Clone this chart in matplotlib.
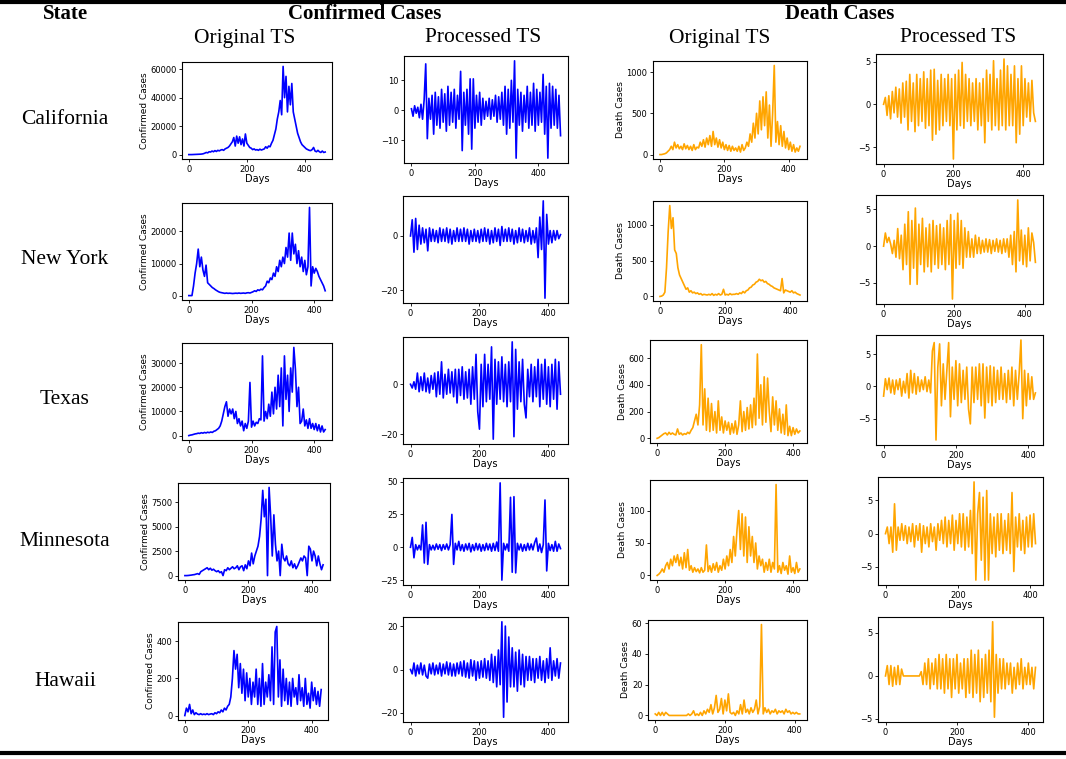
import numpy as np
import matplotlib
matplotlib.use('Agg')
import matplotlib.pyplot as plt
from matplotlib.lines import Line2D

W, H = 1066, 759
STEP = 5  # one value every 5 days

states = ['California', 'New York', 'Texas', 'Minnesota', 'Hawaii']

# ---- California ----
ca_conf = [0,0,0,50,100,150,200,250,300,400,600,1000,1500,1200,2000,1800,2500,2000,2800,2200,
           3000,2600,3200,3500,3000,4000,4500,5000,6000,7500,9000,12000,6000,13000,8000,12500,7000,11000,6000,14500,
           8000,6500,5000,4500,3500,4000,3200,3500,3000,3800,3200,3600,4000,5500,4500,6000,5500,8000,10000,14000,
           18000,25000,30000,38000,28000,62000,40000,55000,30000,48000,35000,50000,30000,25000,20000,15000,12000,9000,7000,6000,
           5000,4000,3500,3000,2800,3500,5000,2500,2000,3000,2000,1500,2500,1500,1800]
ca_proc = [0.5,-2,1.5,-1,1,-2.5,2,-3,3.5,15.5,-9.5,4,-3,5,-8,6,-5,4.5,-6,7,
           -4,5.5,-7,8,-5,6,-4,7,-6,5,-3,13,-13.5,6,-5,7,-8,10.5,-13,10.5,
           -6,5,-4,6,-5,4,-3,3,-2,4,-3,3.5,-2,5,-4,4.5,-3,6,-5,8,
           -8,7,-6,10,-4,16.5,-16,7,-5,6,-7,5,-4,8,-6,6,-5,9,-7,7,
           -5,6,-4,12,-8,8,-16,9,-6,8,-5,7,-6,5,-8.5]
ca_death = [0,0,5,10,20,40,60,100,60,150,80,120,70,100,60,130,70,110,60,100,
            50,120,60,90,80,150,100,180,90,200,120,230,100,280,120,200,90,180,80,150,
            60,120,50,110,40,100,50,80,40,100,30,120,50,80,150,100,250,150,380,200,
            500,250,650,300,700,350,760,200,600,100,500,1080,150,400,120,350,100,280,80,200,
            60,150,40,120,30,80,40,100]
ca_dproc = [0,0.8,-1.3,1,-1.7,1.5,-1,2,-1.5,1.8,-2.2,2.5,-1.5,2.7,-3,3.5,-2,2.5,-3.2,3.5,
            -2.5,3,-2,3.8,-2.8,3,-2.5,4,-4.2,4.1,-3.5,2.8,-3,3.5,-2.5,3,-2,3.5,-2.5,3,
            -6.4,3.5,-3,4,-2.5,4.9,-2.8,3.5,-2,3,-2.5,2.5,-2,3,-3,2.5,-2.5,3,-4.5,4,
            -2,3.5,-3,5.1,-2.5,3,-3,4,-2.5,5.3,-3,4.5,-2.5,3.5,-2.5,4.5,-4.5,3,-3.5,4.5,
            -2.5,3,-1.5,2.5,-2,2.8,-1,-2]

# ---- New York ----
ny_conf = [0,0,0,3000,7000,10000,14500,9000,12000,8000,6000,9500,4000,3500,3000,2500,2200,1800,1500,1200,
           1000,900,800,700,800,700,750,700,650,700,750,700,800,700,750,800,700,850,900,800,
           1000,1200,1500,1300,1800,1600,2000,1800,2500,3000,4500,4000,5500,5000,7000,6000,9000,7500,11000,9000,
           12000,10000,15000,12000,19500,11000,19500,13000,16000,10000,14000,9000,12000,7500,11000,6500,9000,27500,3000,9000,
           7000,8500,7500,6000,5000,4000,3000,1500]
ny_proc = [0,6,-6,6.5,-5,4,-3,3,-2.5,2.5,-5.5,3,-2,2.5,-2,2,-2.5,3,-2,2.5,
           -2,3,-2.5,2.5,-3,2,-2,3,-2,2.5,-2,3,-2,2.5,-3,2,-2,2.5,-2,2,
           -2.5,2.5,-2,3,-2,2.5,-3,2,-2.5,3,-2,2.5,-3.5,3.5,-2,2.5,-2,3,-2,2.5,
           -3,2,-2.5,3,-2,2.5,-2.5,2,-2,3,-3,2,-2.5,3,-8,7,-5,13,-23,8,
           -3,2,-2.5,2,-1.5,2,-1,0.5]
ny_death = [0,5,20,60,400,900,1270,950,1100,650,600,400,300,250,200,150,100,120,60,80,
            50,60,40,50,30,40,20,30,25,20,30,20,40,15,30,20,40,20,30,100,
            20,30,20,40,25,30,30,40,30,50,40,70,50,80,90,120,130,160,170,200,
            210,240,220,230,200,210,180,170,150,140,120,110,100,90,80,250,50,90,80,70,
            60,80,50,60,40,30,20]
ny_dproc = [0,1.8,0.5,1.2,0.3,-1,0.8,-1.5,2.4,-1.7,1.5,-3.2,3,-2.5,4.7,-5.2,3.5,-3,5.2,-5.2,
            3,-2.5,3.8,-3.5,2.5,-2.8,3,-3.5,3.5,-2.5,2.8,-3,3,-2.5,2.5,-3.2,3.5,-2.5,4.3,-7.2,
            3.5,-3,4.5,-2.5,3.5,-3,2.5,-1.5,2,-1.5,1,-1.5,1.5,-1,1.2,-1,0.8,-0.8,1,-0.8,
            0.9,-1,0.8,-0.7,1,-0.8,0.8,-1,1,-0.8,1,-1.5,1.5,-2.5,2,-3.5,6.3,-2,2.2,-2.5,
            1.5,-2.8,2.5,-2,1.8,0.5,-2.2]

# ---- Texas ----
tx_conf = [0,200,300,500,700,800,1000,900,1200,1000,1300,1100,1400,1200,1500,1300,1800,2000,2500,3000,
           4000,6000,9000,12000,14000,8000,11000,9000,11000,7000,10000,5000,7000,4000,6000,2000,5000,3000,6000,22000,
           3500,6000,4000,5500,5000,7000,6500,33000,6000,10000,7000,13000,8000,18000,9000,20000,11000,25000,12000,28000,
           4000,33000,15000,25000,10000,28000,18000,36500,27500,12000,20000,5000,6000,11000,4000,6500,3000,7000,3000,5000,
           2500,5000,2000,4500,1500,4000,1500,2500]
tx_proc = [0,-1.5,1,-2,4.5,-3,3,-2.5,4.5,-3,2.5,-3.5,3.5,-2,4.5,-5,5,-4,9,-5.5,
           4,-4,6,-3.5,5,-5,6,-7.5,6,-4.5,7,-6,5,-5.5,6,-8,7,-6,12,-11,
           -18,8,-9,12,-7,8,-6,15,-22,10,-8,9,-6,11,-7,8,-9,9,-7,17,
           -21,14,-10,9,-7,10,-8,-13.5,6,-5,8,-7,7,-5,10,-9,8,-6,10,-8,
           7,-9,8,-6,10,-10,9,-4]
tx_death = [0,5,15,25,35,40,25,45,30,40,30,25,70,30,40,25,35,30,45,35,
            60,80,130,180,100,250,700,100,370,60,300,50,260,60,200,40,280,60,160,40,
            130,60,120,30,110,40,130,30,100,280,50,200,60,230,70,250,80,300,100,630,
            150,400,100,460,120,450,200,50,310,100,280,60,220,40,180,30,250,20,90,20,
            80,30,70,40,55]
tx_dproc = [-1.5,1.2,-0.5,1.3,-1,1,-1.2,1,-0.5,1.2,-1.5,0.8,-1,2,-1.8,2.5,-1,2,-1.2,1.5,
            -0.8,1,-0.5,1.5,-0.8,1,-1,5.5,6.8,-8.3,3,6.6,-3,3.5,-2,2.5,6.8,-4.7,3,-2,
            4,-3,3.5,-2.5,2.5,-2,3,-3.5,-5.8,3,-2.5,3,-2,3.5,-3,3.5,-4.9,3,-2.5,3.2,
            -3,3,-2.5,2.5,-2,3,-2,2,-2.5,2.5,-2,3,-3,2.5,-2,2,7.2,-5,2.5,-3,
            2,-2,1.5,-2,-1]

# ---- Minnesota ----
mn_conf = [0,0,10,30,50,80,100,150,200,120,400,500,600,700,800,600,750,550,650,500,
           400,500,300,400,0,600,500,800,600,750,900,700,800,1000,600,900,1000,500,1100,700,
           1500,1000,2300,1200,2000,2500,3000,4000,5800,8700,6000,7800,0,9000,6000,2000,6200,3200,1500,2500,
           0,3200,1800,1500,2000,1200,1000,1500,800,1200,700,1000,1400,1800,1500,2000,1800,0,3000,2700,
           1500,2500,2000,1000,2000,1200,600,1100]
mn_proc = [0,7.5,-8,2,-2,1.5,-2,17,-12,19,-13,2,-2,1.5,-2,2.5,-1.5,2,-2.5,2,
           -1.5,2.5,-2,2,25,-13,3,-2,4.5,-2.5,2,-3,2.5,-2,3,-3.5,2,-2.5,3,-2,
           2.5,-3,2,-2.5,3,-2,2.5,-3,3,-2.5,4,-3,49,-25,3,-2,2.5,-3,38,-19,
           38.5,-19.5,3,-2,2.5,-3,2,-2.5,3,-2,2.5,-2,3.5,7,-3,2.5,-4,2,36,-18,
           3,-2.5,2,-3,4.5,-3,2.5,-1]
mn_death = [0,2,5,10,5,15,20,10,25,15,30,20,32,15,28,10,35,12,40,8,
            15,5,12,6,10,4,12,5,8,47,6,15,5,18,8,20,5,15,8,25,
            10,30,15,40,20,60,30,70,100,40,95,30,90,20,75,30,60,20,50,10,
            30,15,25,5,20,8,25,5,20,10,140,5,15,3,20,8,15,2,30,5,
            12,3,20,5,10]
mn_dproc = [0,1,-1.5,1,-2.8,4.5,-2.5,1,-1,1.5,-1,1.2,-1.5,1,-1.2,1.5,-2,1.2,-1,1.5,
            -2.8,1.2,-1.5,1,-2,1.5,-1.2,1,-2.5,1.5,-1,2,-1.5,2.5,-2,2,-1.5,2.8,-2.5,2,
            -1.5,3,-2,3,-2.5,2.5,-2,3.5,-3,7.8,-7,3,6.2,-4,5.5,-7,6.5,-7,3,-3,
            2.5,-3.5,3,-2.5,3,-3,2,-2.5,3,-3,6.2,-5.7,2.5,-2,3,-2.5,2,-3,2.5,-2,
            2.8,-2,3,-1.5]

# ---- Hawaii ----
hi_conf = [0,40,20,60,10,30,5,15,8,5,10,5,8,5,10,5,8,10,5,15,
           10,20,15,30,20,40,30,50,60,100,200,350,250,330,150,280,120,250,80,230,
           100,200,60,180,100,250,60,200,50,280,60,180,100,220,80,370,60,450,480,100,
           300,50,250,80,200,60,180,50,200,100,150,60,220,80,150,50,200,60,120,40,
           180,80,150,60,130,50,140]
hi_proc = [0,-2,3,-3,2,-2,3,-2.5,2,-3,-4,2.5,-2,3,-2.5,2,-2,3,-3,2.5,
           -2,3.5,-2.5,3,-3,2.5,-3,3,-2,3.5,-3,4,-3.5,3,-4,4.5,-3,4,-5,3.5,
           -4,4,-3.5,5,-4,4,-5,7,-6,6,-8,9,-7,22,-22,20,-15,15,-8,10,
           -8,8,-10,9,-7,7,-8,6,-5,6,-5,5,-6,5,-4,6,-5,4,-6,5,
           -4,10,-5,4,-3,5,-4,3]
hi_death = [1,0,2,0,2,0,2,1,0,0,0,0,0,0,0,0,0,0,0,1,
            0,1,3,0,1,0,2,0,3,1,4,2,7,1,5,13,2,4,11,1,
            10,3,14,2,1,2,0,3,1,7,1,10,2,4,1,5,2,4,10,1,
            6,59,1,5,2,4,1,3,2,4,1,3,2,3,1,4,2,3,1,2,
            1,2,1,1]
hi_dproc = [0,1.2,-1,1.2,-1.2,1,-1,1.2,-1,0.8,0,0,0,0,0,0,0,0,0,0,
            0.5,-1,1.5,-1,2,-1.5,1.5,-1,2,-1.5,2.5,-1.5,2,-2,2.5,-1.5,2,-2.5,2,-1.5,
            2.5,-2,1.5,-1.5,2,-2.5,2,-2,3,-2.5,2.5,-2,3,-3,2,-2.5,2.5,-2,3,-3,
            6.3,-4.8,2.5,-2,2,-1.5,2,-1.5,1.5,-1,1.5,-2,1,-1.5,1.5,-1,2,-1.5,1,-1,
            1.5,-1,1,-1.5,1]

series = [[ca_conf, ca_proc, ca_death, ca_dproc],
          [ny_conf, ny_proc, ny_death, ny_dproc],
          [tx_conf, tx_proc, tx_death, tx_dproc],
          [mn_conf, mn_proc, mn_death, mn_dproc],
          [hi_conf, hi_proc, hi_death, hi_dproc]]

yticks = [[[0, 20000, 40000, 60000], [-10, 0, 10], [0, 500, 1000], [-5, 0, 5]],
          [[0, 10000, 20000], [-20, 0], [0, 500, 1000], [-5, 0, 5]],
          [[0, 10000, 20000, 30000], [-20, 0], [0, 200, 400, 600], [-5, 0, 5]],
          [[0, 2500, 5000, 7500], [-25, 0, 25, 50], [0, 50, 100], [-5, 0, 5]],
          [[0, 200, 400], [-20, 0, 20], [0, 20, 40, 60], [-5, 0, 5]]]

# axes boxes in pixels: left, top, right, bottom
boxes = [[(182, 62, 332, 159), (404, 56, 568, 163), (653, 61, 807, 159), (876, 54, 1043, 164)],
         [(182, 203, 332, 300), (403, 196, 568, 303), (653, 201, 807, 301), (876, 195, 1043, 304)],
         [(182, 343, 332, 440), (403, 337, 568, 444), (650, 340, 807, 443), (876, 335, 1043, 445)],
         [(178, 483, 330, 580), (403, 478, 568, 585), (650, 480, 807, 580), (878, 477, 1043, 585)],
         [(178, 622, 328, 720), (403, 617, 568, 722), (648, 620, 807, 720), (878, 617, 1043, 722)]]

colors = ['blue', 'blue', 'orange', 'orange']
ylabels = ['Confirmed Cases', None, 'Death Cases', None]

fig = plt.figure(figsize=(W / 100, H / 100), dpi=100)

serif = 'Liberation Serif'
fig.text(65 / W, 1 - 14 / H, 'State', ha='center', va='center', fontsize=15, fontweight='bold', family=serif)
fig.text(365 / W, 1 - 14 / H, 'Confirmed Cases', ha='center', va='center', fontsize=15, fontweight='bold', family=serif)
fig.text(840 / W, 1 - 14 / H, 'Death Cases', ha='center', va='center', fontsize=15, fontweight='bold', family=serif)
for xc, lab in zip([245, 483, 720, 958], ['Original TS', 'Processed TS', 'Original TS', 'Processed TS']):
    fig.text(xc / W, 1 - 38 / H, lab, ha='center', va='center', fontsize=15.5, family=serif)

state_y = [120, 260, 400, 542, 682]
for name, yc in zip(states, state_y):
    fig.text(65 / W, 1 - yc / H, name, ha='center', va='center', fontsize=15.5, family=serif)

# top and bottom rules
fig.add_artist(Line2D([0, 1], [1 - 1.5 / H, 1 - 1.5 / H], color='black', lw=3, transform=fig.transFigure))
fig.add_artist(Line2D([0, 1], [1 - 753 / H, 1 - 753 / H], color='black', lw=3, transform=fig.transFigure))

for r in range(5):
    for c in range(4):
        l, t, rr, b = boxes[r][c]
        ax = fig.add_axes([l / W, 1 - b / H, (rr - l) / W, (b - t) / H])
        vals = series[r][c]
        x = np.arange(len(vals)) * STEP
        ax.plot(x, vals, color=colors[c], lw=1.2)
        ax.set_xticks([0, 200, 400])
        ax.set_yticks(yticks[r][c])
        ax.tick_params(labelsize=6, length=2.5, width=0.6, pad=1.5)
        ax.set_xlabel('Days', fontsize=7, labelpad=0)
        if ylabels[c]:
            ax.set_ylabel(ylabels[c], fontsize=6.5, labelpad=1)
        for s in ax.spines.values():
            s.set_linewidth(0.8)

fig.savefig('out.png', dpi=100)
